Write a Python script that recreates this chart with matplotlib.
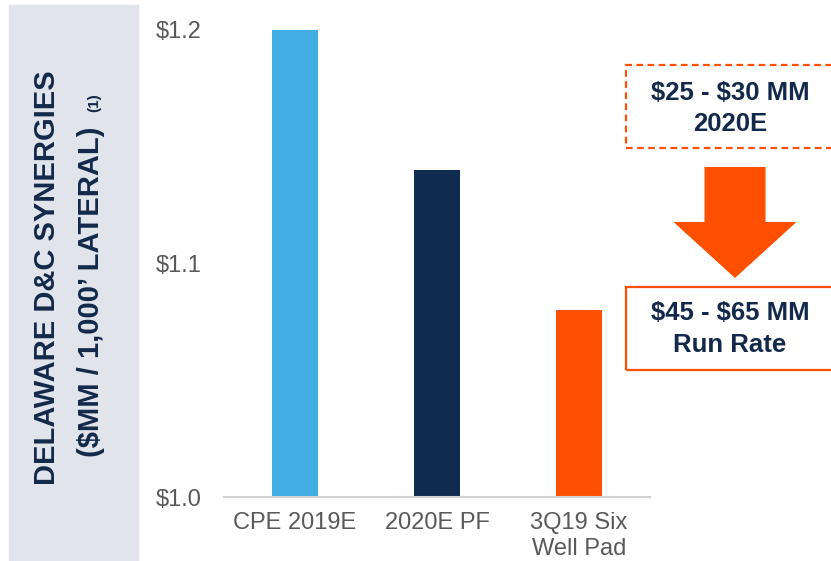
import matplotlib.pyplot as plt
from matplotlib.patches import Rectangle, FancyArrow

plt.rcParams['font.family'] = ['Liberation Sans', 'DejaVu Sans']

categories = ['CPE 2019E', '2020E PF', '3Q19 Six\nWell Pad']
values = [1.20, 1.14, 1.08]
colors = ['#41ADE2', '#0F2B50', '#FF4F00']
yticks = [1.0, 1.1, 1.2]
ytick_labels = ['$1.0', '$1.1', '$1.2']

navy = '#13294B'
orange = '#FF4F00'


def fx(px):
    return px / 831


def fy(py):
    return 1 - py / 561


fig = plt.figure(figsize=(8.31, 5.61), dpi=100)

# grey side panel with the axis title
fig.patches.append(Rectangle((fx(9), 0), fx(129), 1 - 5 / 561,
                             transform=fig.transFigure, color='#E1E4EB', zorder=0))
fig.text(fx(47), fy(278), "DELAWARE D&C SYNERGIES", rotation=90, ha='center', va='center',
         fontsize=21, fontweight='bold', color=navy)
fig.text(fx(91), fy(292), "(\\$MM / 1,000\u2019 LATERAL)", rotation=90, ha='center', va='center',
         fontsize=21, fontweight='bold', color=navy)
fig.text(fx(94), fy(103), "(1)", rotation=90, ha='center', va='center',
         fontsize=11, fontweight='bold', color=navy)

ax = fig.add_axes([fx(224), fy(497), fx(426), 467 / 561])
x = range(len(categories))
ax.bar(x, [v - 1.0 for v in values], bottom=1.0, width=0.32, color=colors)
ax.set_xlim(-0.5, 2.5)
ax.set_ylim(1.0, 1.2)
ax.set_yticks(yticks)
ax.set_yticklabels(ytick_labels)
ax.set_xticks(list(x))
ax.set_xticklabels(categories)
for s in ['top', 'right', 'left']:
    ax.spines[s].set_visible(False)
ax.spines['bottom'].set_color('#D0D0D0')
ax.spines['bottom'].set_linewidth(1.5)
ax.tick_params(axis='both', length=0, labelsize=17, labelcolor='#595959')
ax.tick_params(axis='y', pad=16)
ax.tick_params(axis='x', pad=11)

# callout boxes on the right
fig.patches.append(Rectangle((fx(626), fy(148)), fx(220), 83 / 561, transform=fig.transFigure,
                             fill=False, edgecolor=orange, linestyle=(0, (3, 2)), linewidth=1.6))
fig.text(fx(730), fy(93), "\\$25 - \\$30 MM", ha='center', va='center', fontsize=18.5,
         fontweight='bold', color=navy)
fig.text(fx(730), fy(124), "2020E", ha='center', va='center', fontsize=18.5,
         fontweight='bold', color=navy)

fig.patches.append(FancyArrow(fx(735), fy(167), 0, -(222 - 167) / 561,
                              width=fx(61), head_width=fx(123), head_length=(278 - 222) / 561,
                              length_includes_head=False, transform=fig.transFigure,
                              color=orange, linewidth=0))

fig.patches.append(Rectangle((fx(626), fy(370)), fx(220), 83 / 561, transform=fig.transFigure,
                             fill=False, edgecolor=orange, linewidth=1.6))
fig.text(fx(730), fy(313), "\\$45 - \\$65 MM", ha='center', va='center', fontsize=18.5,
         fontweight='bold', color=navy)
fig.text(fx(730), fy(345), "Run Rate", ha='center', va='center', fontsize=18.5,
         fontweight='bold', color=navy)

fig.savefig('out.png', dpi=100)
